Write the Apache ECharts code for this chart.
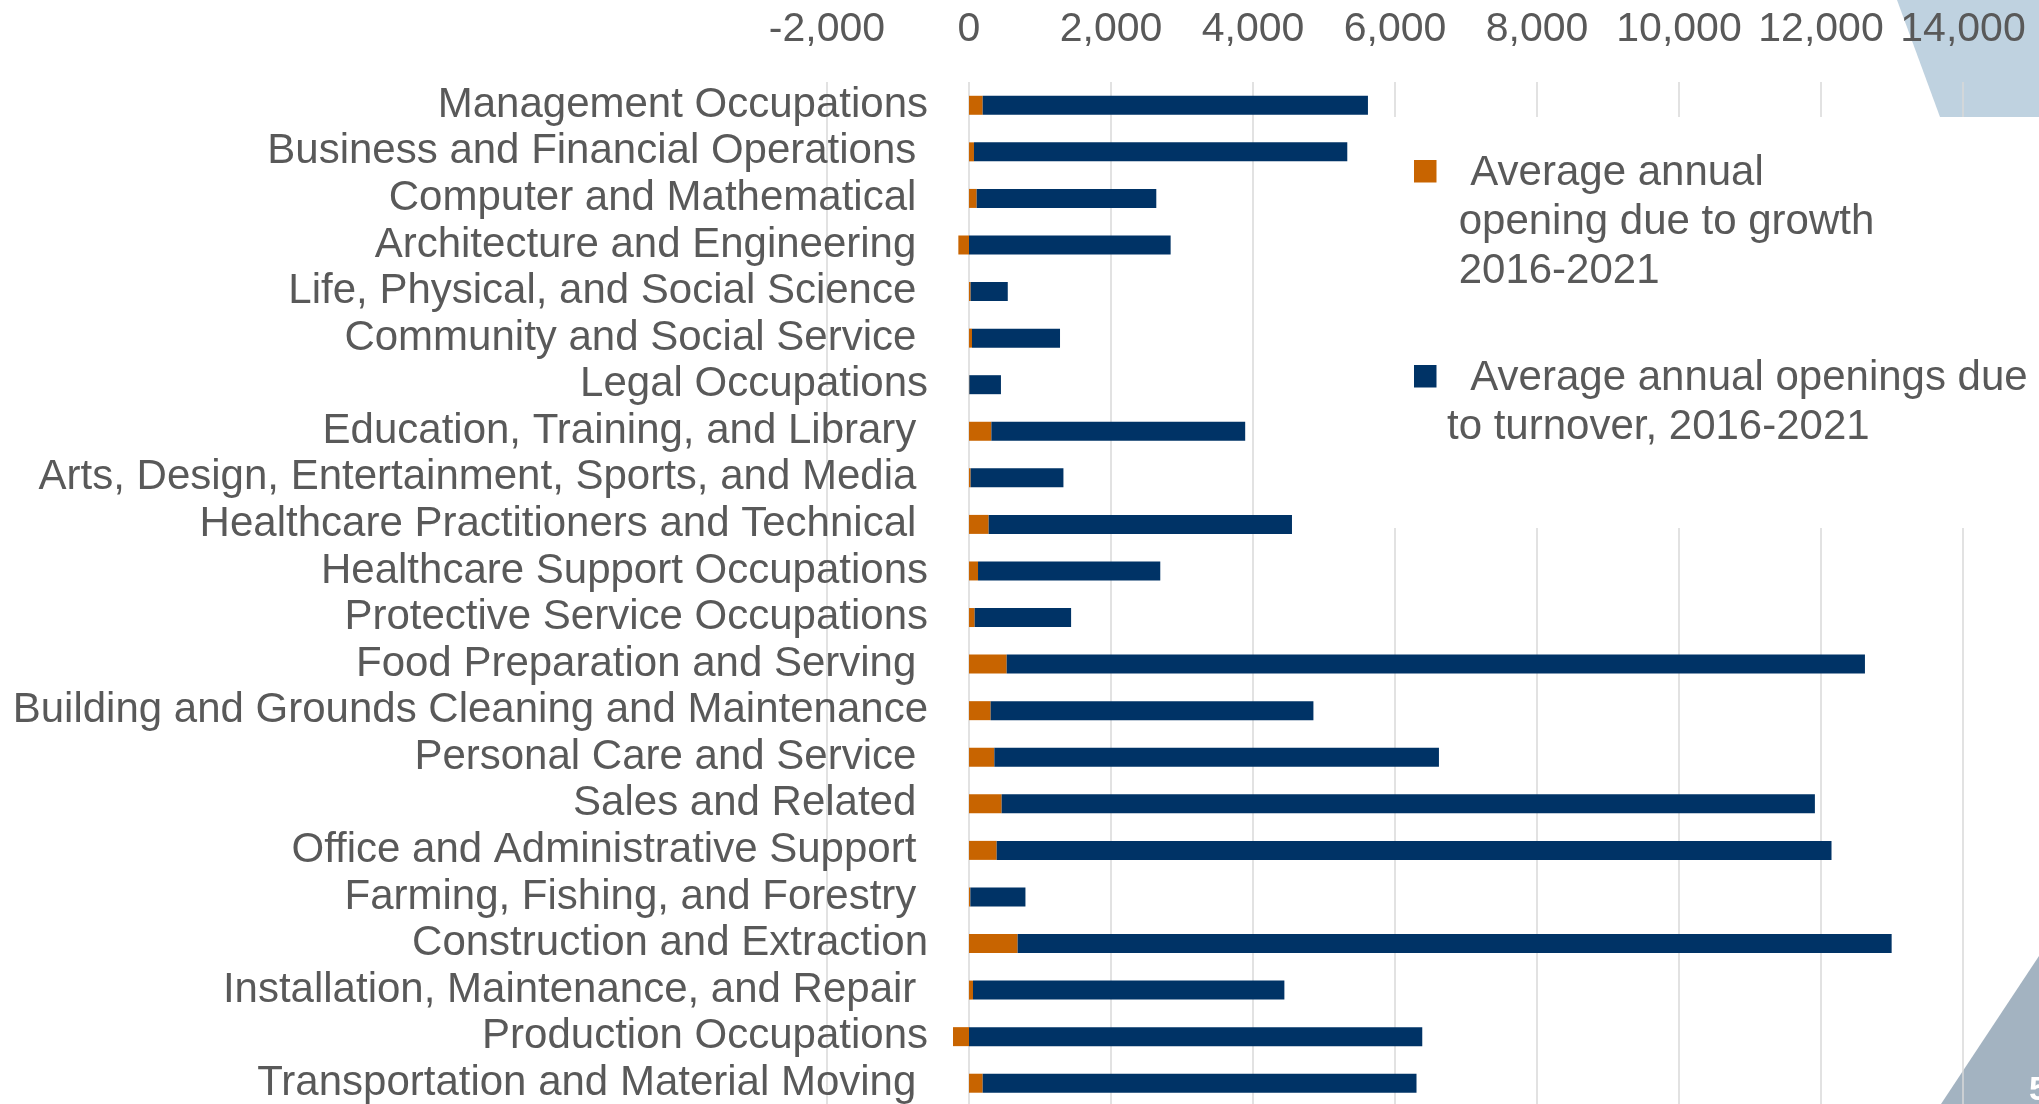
<!DOCTYPE html>
<html>
<head>
<meta charset="utf-8">
<script src="https://cdn.jsdelivr.net/npm/echarts@6/dist/echarts.min.js"></script>
<style>
  html, body { margin: 0; padding: 0; background: #fff; }
  #chart1 { width: 2039px; height: 1104px; }
</style>
</head>
<body>
<div id="chart1"></div>
<script>
var categories = [
    'Management Occupations',
    'Business and Financial Operations ',
    'Computer and Mathematical ',
    'Architecture and Engineering ',
    'Life, Physical, and Social Science ',
    'Community and Social Service ',
    'Legal Occupations',
    'Education, Training, and Library ',
    'Arts, Design, Entertainment, Sports, and Media ',
    'Healthcare Practitioners and Technical ',
    'Healthcare Support Occupations',
    'Protective Service Occupations',
    'Food Preparation and Serving ',
    'Building and Grounds Cleaning and Maintenance',
    'Personal Care and Service ',
    'Sales and Related ',
    'Office and Administrative Support ',
    'Farming, Fishing, and Forestry ',
    'Construction and Extraction',
    'Installation, Maintenance, and Repair ',
    'Production Occupations',
    'Transportation and Material Moving '
];

var growth = [193, 70, 108, -150, 23, 42, 5, 315, 23, 277, 127,
    80, 531, 305, 357, 460, 390, 19, 685, 56, -225, 193];

var turnover = [5426, 5258, 2530, 2840, 523, 1240, 445, 3575, 1307, 4272, 2567,
    1358, 12088, 4546, 6262, 11454, 11758, 776, 12310, 4386, 6384, 6110];

var xTicks = { min: -2000, max: 14000, interval: 2000 };

var growthName = 'Average annual opening due to growth 2016-2021';
var turnoverName = 'Average annual openings due to turnover, 2016-2021';

var legendText = {};
legendText[growthName] = '  Average annual\n opening due to growth\n 2016-2021';
legendText[turnoverName] = '  Average annual openings due\nto turnover, 2016-2021';

var font = '"Liberation Sans", Arial, sans-serif';
var textColor = '#595959';

var myChart = echarts.init(document.getElementById('chart1'));

option = {
    animation: false,
    backgroundColor: '#fff',
    graphic: [{
            type: 'polygon',
            z: -1,
            shape: { points: [[1897, 0], [2039, 0], [2039, 117], [1940, 117]] },
            style: { fill: '#bfd2e0' }
        },
        {
            type: 'polygon',
            z: -1,
            shape: { points: [[2039, 956], [2039, 1104], [1941, 1104]] },
            style: { fill: '#a3b3c1' }
        },
        {
            type: 'text',
            z: -1,
            left: 2029,
            top: 1074,
            style: { text: '5', fill: '#fff', font: 'bold 34px ' + font }
        }
    ],
    legend: {
        orient: 'vertical',
        z: 1,
        left: 1330,
        top: 117,
        padding: [31.5, 30, 52, 84],
        backgroundColor: '#fff',
        itemWidth: 28,
        itemHeight: 147,
        itemGap: 33.5,
        selectedMode: false,
        data: [
            { name: growthName, icon: 'path://M0,0M28,147M0,11.5h22.5v22.5h-22.5z' },
            { name: turnoverName, icon: 'path://M0,0M28,147M0,36h22.5v22.5h-22.5z' }
        ],
        formatter: function (name) {
            return legendText[name];
        },
        textStyle: {
            fontFamily: font,
            fontSize: 42,
            lineHeight: 49,
            color: textColor
        }
    },
    grid: {
        left: 827,
        right: 76,
        top: 82,
        bottom: -2.5,
        containLabel: false,
        outerBoundsMode: 'none'
    },
    xAxis: {
        type: 'value',
        position: 'top',
        min: xTicks.min,
        max: xTicks.max,
        interval: xTicks.interval,
        axisLine: { show: false },
        axisTick: { show: false },
        axisLabel: {
            margin: 32,
            fontFamily: font,
            fontSize: 41,
            color: textColor,
            formatter: function (v) {
                return v.toLocaleString('en-US');
            }
        },
        splitLine: {
            show: true,
            lineStyle: { color: '#d9d9d9', width: 1.5 }
        }
    },
    yAxis: {
        type: 'category',
        inverse: true,
        offset: -142,
        data: categories,
        axisLine: { show: false },
        axisTick: { show: false },
        axisLabel: {
            interval: 0,
            margin: 41,
            padding: [5, 0, 0, 0],
            fontFamily: font,
            fontSize: 42,
            color: textColor
        }
    },
    series: [{
            name: growthName,
            type: 'bar',
            stack: 'total',
            barWidth: 19,
            itemStyle: { color: '#c86400' },
            data: growth
        },
        {
            name: turnoverName,
            type: 'bar',
            stack: 'total',
            barWidth: 19,
            itemStyle: { color: '#003366' },
            data: turnover
        }
    ]
};
myChart.setOption(option);
window.onresize = myChart.resize;
</script>
</body>
</html>
